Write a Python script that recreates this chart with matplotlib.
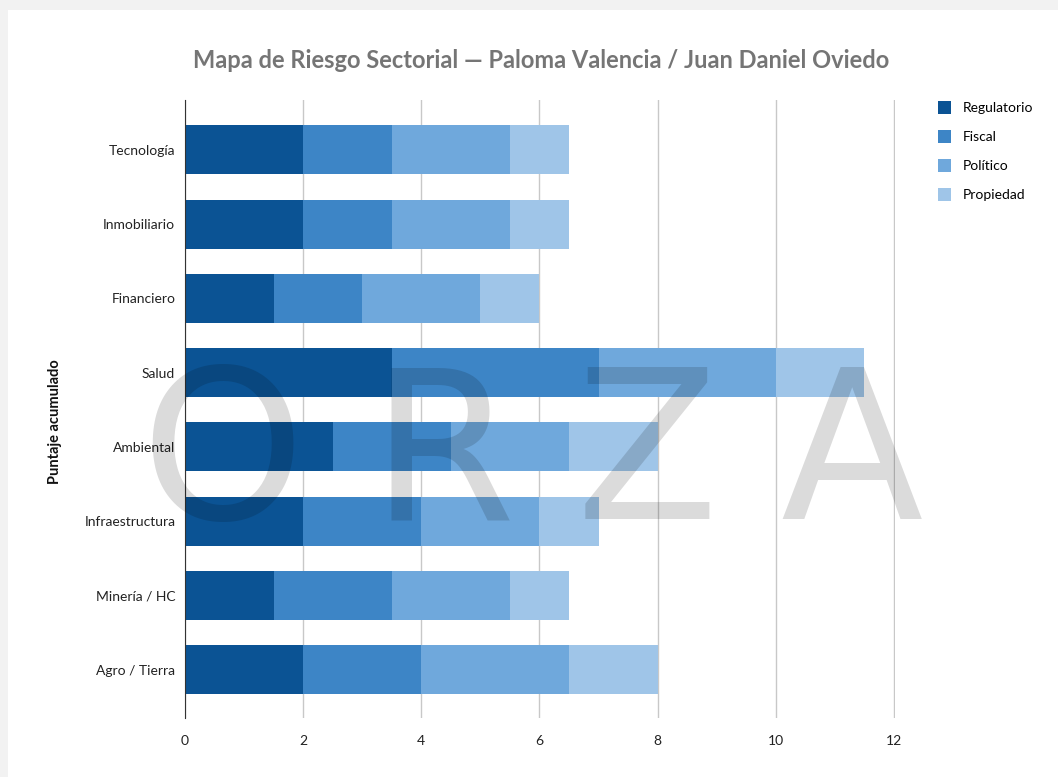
import matplotlib
matplotlib.use("Agg")
from matplotlib import pyplot as plt
from matplotlib.patches import Rectangle
import numpy as np

plt.rcParams['font.family'] = ['Lato', 'DejaVu Sans']

sectores = ["Tecnología", "Inmobiliario", "Financiero", "Salud", "Ambiental",
            "Infraestructura", "Minería / HC", "Agro / Tierra"]
regulatorio = [2, 2, 1.5, 3.5, 2.5, 2, 1.5, 2]
fiscal = [1.5, 1.5, 1.5, 3.5, 2, 2, 2, 2]
politico = [2, 2, 2, 3, 2, 2, 2, 2.5]
propiedad = [1, 1, 1, 1.5, 1.5, 1, 1, 1.5]

series = [("Regulatorio", regulatorio, "#0b5394"),
          ("Fiscal", fiscal, "#3d85c6"),
          ("Político", politico, "#6fa8dc"),
          ("Propiedad", propiedad, "#9fc5e8")]

W, H = 1058, 777
fig = plt.figure(figsize=(W / 100, H / 100), dpi=100, facecolor="#f2f2f2")
# white panel
fig.patches.append(Rectangle((8 / W, 0), 1, 1 - 10 / H, transform=fig.transFigure,
                             facecolor="white", edgecolor="none", zorder=-5))

ax = fig.add_axes([185 / W, 1 - 718 / H, (894.5 - 185) / W, (718 - 100) / H])
ax.set_facecolor("white")
ax.set_zorder(1)

y = np.arange(len(sectores))
left = np.zeros(len(sectores))
for name, vals, col in series:
    ax.barh(y, vals, left=left, height=0.66, color=col, label=name, zorder=2)
    left += np.array(vals)

ax.set_xlim(0, 12.01)
ax.set_ylim(len(sectores) - 0.35, -0.67)
ax.set_xticks(range(0, 13, 2))
ax.set_yticks(y)
ax.set_yticklabels(sectores)
ax.grid(axis="x", color="#c8c8c8", linewidth=1, zorder=0)
ax.set_axisbelow(True)
for s in ["top", "right", "bottom"]:
    ax.spines[s].set_visible(False)
ax.spines["left"].set_color("#333333")
ax.spines["left"].set_zorder(3)
ax.tick_params(axis="both", length=0, labelsize=10, colors="#222222")
ax.tick_params(axis="x", pad=12)
ax.tick_params(axis="y", pad=7)

fig.text(541 / W, 1 - 61 / H, "Mapa de Riesgo Sectorial — Paloma Valencia / Juan Daniel Oviedo",
         ha="center", va="center", fontsize=17, fontweight="bold", color="#757575")
fig.text(55 / W, 1 - 422 / H, "Puntaje acumulado", rotation=90, ha="center", va="center",
         fontsize=10.5, fontweight="bold", color="#111111")

leg = ax.legend(loc="upper left", bbox_to_anchor=(925 / W, 1 - 89 / H),
                bbox_transform=fig.transFigure, frameon=False, fontsize=10,
                handlelength=1.0, handleheight=1.0, labelspacing=1.15, handletextpad=0.8)

# watermark
for letra, xc in [("O", 222), ("R", 443), ("Z", 647), ("A", 852)]:
    fig.text(xc / W, 1 - 461 / H, letra, ha="center", va="center", fontsize=150,
             family="DejaVu Sans", color="black", alpha=0.14, zorder=10)

fig.savefig("out.png", dpi=100, facecolor=fig.get_facecolor())
